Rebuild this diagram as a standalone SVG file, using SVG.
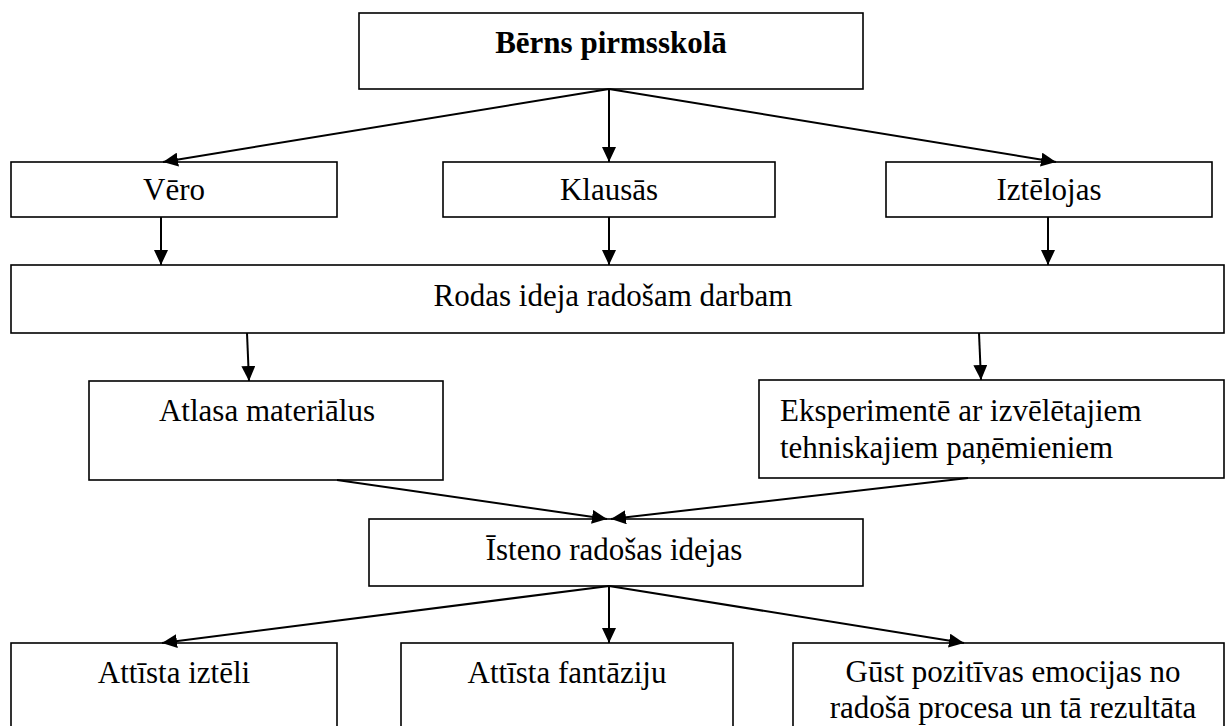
<svg xmlns="http://www.w3.org/2000/svg" width="1226" height="726" viewBox="0 0 1226 726">
<style>
.box{fill:#fff;stroke:#000;stroke-width:1.6}
.t{font-family:"Liberation Serif","Times New Roman",serif;font-size:31px;fill:#000}
.c{text-anchor:middle}
.b{font-weight:bold}
.conn line{stroke:#000;stroke-width:2;marker-end:url(#ah)}
</style>
<defs>
<marker id="ah" markerUnits="userSpaceOnUse" markerWidth="16" markerHeight="14" viewBox="0 0 16 14" refX="15" refY="7" orient="auto">
<path d="M0,0 L15,7 L0,14 z" fill="#000"/>
</marker>
</defs>
<rect width="1226" height="726" fill="#fff"/>
<g id="n-berns"><rect class="box" x="359" y="13" width="504" height="76"/><text class="t c b" x="611" y="53">Bērns pirmsskolā</text></g>
<g id="n-vero"><rect class="box" x="11" y="162" width="326" height="55"/><text class="t c" x="174" y="200">Vēro</text></g>
<g id="n-klausas"><rect class="box" x="443" y="162" width="332" height="55"/><text class="t c" x="609" y="200">Klausās</text></g>
<g id="n-iztelojas"><rect class="box" x="886" y="162" width="326" height="55"/><text class="t c" x="1049" y="200">Iztēlojas</text></g>
<g id="n-rodas"><rect class="box" x="11" y="265" width="1213" height="68"/><text class="t c" x="613" y="306">Rodas ideja radošam darbam</text></g>
<g id="n-atlasa"><rect class="box" x="89" y="381" width="354" height="99"/><text class="t c" x="267" y="421">Atlasa materiālus</text></g>
<g id="n-eksp"><rect class="box" x="759" y="380" width="465" height="98"/><text class="t" x="780" y="421">Eksperimentē ar izvēlētajiem</text><text class="t" x="780" y="458">tehniskajiem paņēmieniem</text></g>
<g id="n-isteno"><rect class="box" x="369" y="519" width="494" height="67"/><text class="t c" x="614" y="560">Īsteno radošas idejas</text></g>
<g id="n-izteli"><rect class="box" x="11" y="643" width="326" height="100"/><text class="t c" x="174" y="683">Attīsta iztēli</text></g>
<g id="n-fantaziju"><rect class="box" x="401" y="643" width="332" height="100"/><text class="t c" x="567" y="683">Attīsta fantāziju</text></g>
<g id="n-gust"><rect class="box" x="793" y="643" width="431" height="100"/><text class="t c" x="1013" y="682">Gūst pozitīvas emocijas no</text><text class="t c" x="1013" y="718">radošā procesa un tā rezultāta</text></g>
<g id="connectors" class="conn">
<line x1="609" y1="89" x2="163" y2="162"/>
<line x1="609" y1="89" x2="609" y2="162"/>
<line x1="609" y1="89" x2="1056" y2="162"/>
<line x1="161" y1="217" x2="161" y2="265"/>
<line x1="609" y1="217" x2="609" y2="265"/>
<line x1="1048" y1="217" x2="1048" y2="265"/>
<line x1="247" y1="333" x2="249" y2="381"/>
<line x1="979" y1="333" x2="981" y2="380"/>
<line x1="337" y1="480" x2="607" y2="519"/>
<line x1="968" y1="478" x2="611" y2="519"/>
<line x1="609" y1="586" x2="162" y2="643"/>
<line x1="609" y1="586" x2="609" y2="643"/>
<line x1="609" y1="586" x2="964" y2="643"/>
</g>
</svg>
